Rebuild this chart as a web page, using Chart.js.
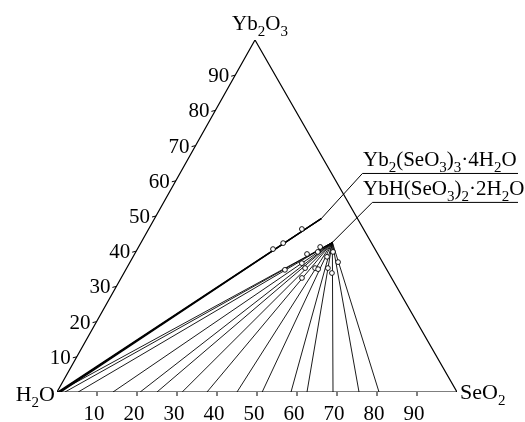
<!DOCTYPE html>
<html>
<head>
<meta charset="utf-8">
<script src="https://cdn.jsdelivr.net/npm/chart.js@4"></script>
<style>
  html, body { margin: 0; padding: 0; background: #fff; }
  #wrap { width: 525px; height: 422px; }
</style>
</head>
<body>
<div id="wrap"><canvas id="chart"></canvas></div>
<script>
// ===== Yb2O3 - SeO2 - H2O ternary diagram (mass %) =====

const tickValues = [10, 20, 30, 40, 50, 60, 70, 80, 90];
const vertexNames = ['H_2O', 'SeO_2', 'Yb_2O_3'];

const compoundNames = ['Yb_2(SeO_3)_3·4H_2O', 'YbH(SeO_3)_2·2H_2O'];
const compoundSeO2 = [41.7, 47.8];
const compoundYb2O3 = [49.3, 42.5];

// liquid phase (SeO2 %) + wet residue for Yb2(SeO3)3·4H2O
const liqA = [0.2, 0.5, 0.9];
const resA_SeO2 = [33.9, 35.6, 38.3];
const resA_Yb2O3 = [40.6, 42.3, 46.3];

// liquid phase (SeO2 %) + wet residue for YbH(SeO3)2·2H2O
const liqB = [0.3, 2, 5.3, 14, 20.8, 25, 31.3, 37.5, 45, 51.3, 58.5, 62.5, 69, 75.5, 80.5];
const resB_SeO2 = [45.4, 43.1, 39.8, 43.1, 45.5, null, 44.6, 45.2, 47.1, 48.0, 48.5, 50.3, 52.0, 49.3, 52.0];
const resB_Yb2O3 = [41.2, 39.2, 34.7, 36.6, 39.8, null, 35.2, 32.4, 35.2, 34.9, 38.4, 35.2, 33.8, 39.8, 36.9];

const SKEW = 0.495; // top vertex sits slightly left of centre in the original
const FONT = '"Liberation Serif", "Times New Roman", serif';

function tern(se, yb) {
  return { x: se + SKEW * yb, y: yb };
}

function lineSet(pts, width) {
  return {
    type: 'scatter', data: pts, showLine: true, borderColor: '#000',
    borderWidth: width, pointRadius: 0, order: 2
  };
}

const datasets = [];
datasets.push(lineSet([tern(0, 0), tern(100, 0), tern(0, 100), tern(0, 0)], 1.2));

liqA.forEach(l => {
  datasets.push(lineSet([tern(l, 0), tern(compoundSeO2[0], compoundYb2O3[0])], 1.4));
});
liqB.forEach(l => {
  datasets.push(lineSet([tern(l, 0), tern(compoundSeO2[1], compoundYb2O3[1])], 0.9));
});

const residues = [];
resA_SeO2.forEach((s, i) => residues.push(tern(s, resA_Yb2O3[i])));
resB_SeO2.forEach((s, i) => { if (s != null) residues.push(tern(s, resB_Yb2O3[i])); });

datasets.push({
  type: 'scatter', data: residues, pointRadius: 2.4, pointBackgroundColor: '#fff',
  pointBorderColor: '#000', pointBorderWidth: 0.9, order: 0
});

// text with subscripts: "_x" lowers one character
function richText(ctx, str, x, y, size, align) {
  const parts = [];
  for (let i = 0; i < str.length; i++) {
    if (str[i] === '_') { parts.push({ t: str[i + 1], sub: true }); i++; }
    else parts.push({ t: str[i], sub: false });
  }
  const big = size + 'px ' + FONT, small = Math.round(size * 0.7) + 'px ' + FONT;
  let w = 0;
  parts.forEach(p => { ctx.font = p.sub ? small : big; p.w = ctx.measureText(p.t).width; w += p.w; });
  let cx = align === 'center' ? x - w / 2 : align === 'right' ? x - w : x;
  ctx.textAlign = 'left';
  ctx.textBaseline = 'alphabetic';
  parts.forEach(p => {
    ctx.font = p.sub ? small : big;
    ctx.fillText(p.t, cx, p.sub ? y + size * 0.28 : y);
    cx += p.w;
  });
  return w;
}

const ternaryDecor = {
  id: 'ternaryDecor',
  afterDatasetsDraw(chart) {
    const ctx = chart.ctx, xs = chart.scales.x, ys = chart.scales.y;
    const px = (se, yb) => [xs.getPixelForValue(se + SKEW * yb), ys.getPixelForValue(yb)];
    ctx.save();
    ctx.fillStyle = '#000';
    ctx.strokeStyle = '#000';
    ctx.lineWidth = 1;

    // ticks and tick labels
    tickValues.forEach(v => {
      const [bx, by] = px(v, 0);
      ctx.beginPath(); ctx.moveTo(bx, by); ctx.lineTo(bx, by + 4); ctx.stroke();
      richText(ctx, String(v), bx - 3, by + 28, 21, 'center');

      const [lx, ly] = px(0, v);
      ctx.beginPath(); ctx.moveTo(lx, ly); ctx.lineTo(lx - 4, ly + 1); ctx.stroke();
      richText(ctx, String(v), lx - 6, ly + 7, 21, 'right');
    });

    // vertex labels
    const [h0x, h0y] = px(0, 0);
    richText(ctx, vertexNames[0], h0x - 2, h0y + 9, 22, 'right');
    const [s0x, s0y] = px(100, 0);
    richText(ctx, vertexNames[1], s0x + 3, s0y + 7, 22, 'left');
    const [t0x, t0y] = px(0, 100);
    richText(ctx, vertexNames[2], t0x + 5, t0y - 10, 21, 'center');

    // compound labels with leader lines
    const leaders = [{ dx: 41, dy: -45 }, { dx: 40, dy: -40 }];
    compoundNames.forEach((name, i) => {
      const [cx, cy] = px(compoundSeO2[i], compoundYb2O3[i]);
      const ex = cx + leaders[i].dx, ey = cy + leaders[i].dy;
      ctx.beginPath();
      ctx.moveTo(cx, cy); ctx.lineTo(ex, ey); ctx.lineTo(518, ey);
      ctx.stroke();
      richText(ctx, name, 363, ey - 7, 21, 'left');
    });
    ctx.restore();
  }
};

new Chart(document.getElementById('chart'), {
  type: 'scatter',
  data: { datasets },
  options: {
    responsive: true,
    maintainAspectRatio: false,
    animation: false,
    layout: { padding: { left: 57, right: 68, top: 40, bottom: 30 } },
    plugins: { legend: { display: false }, tooltip: { enabled: false } },
    scales: {
      x: { type: 'linear', min: 0, max: 100, display: false },
      y: { type: 'linear', min: 0, max: 100, display: false }
    }
  },
  plugins: [ternaryDecor]
});
</script>
</body>
</html>
